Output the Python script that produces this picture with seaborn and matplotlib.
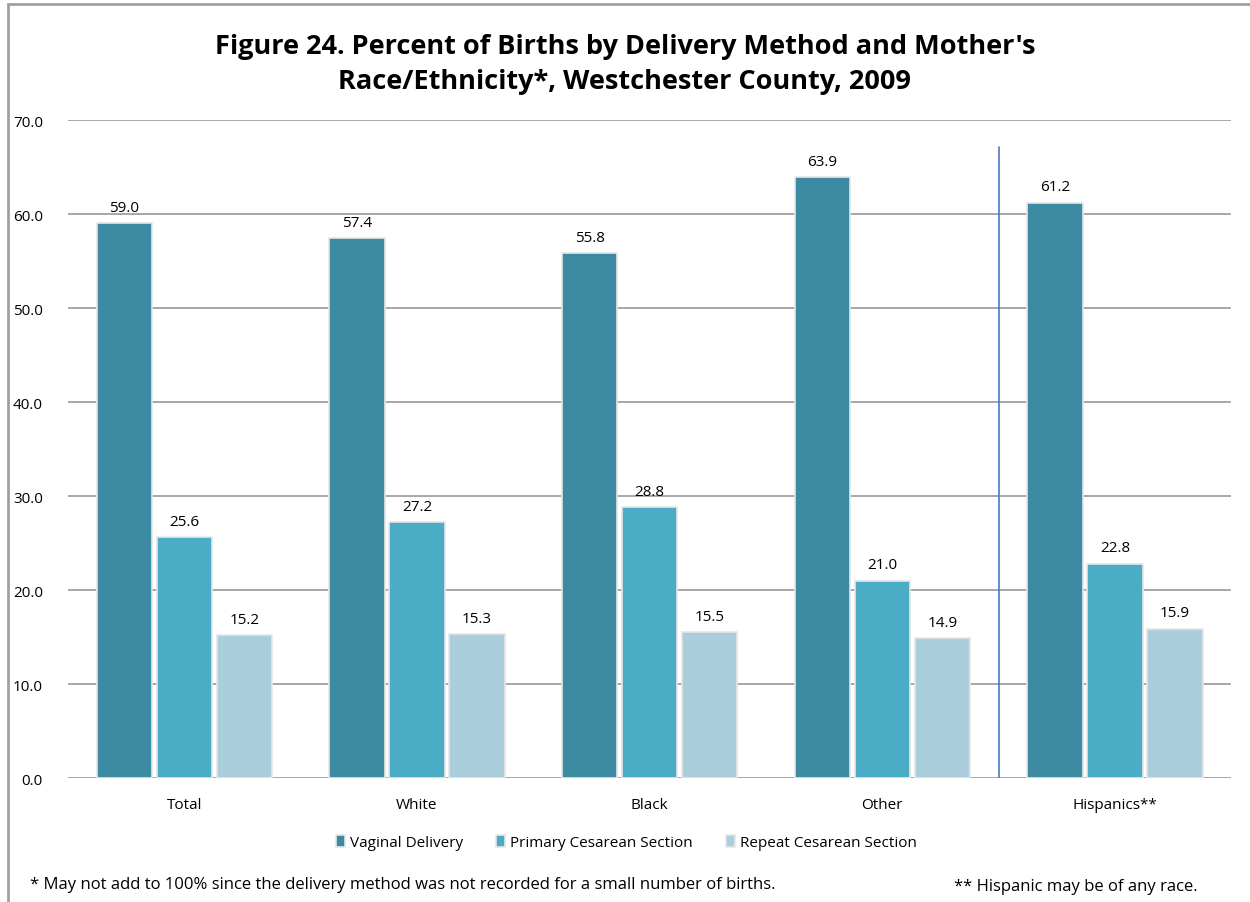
import matplotlib
matplotlib.use("Agg")
import matplotlib.pyplot as plt
import seaborn as sns
import pandas as pd
from matplotlib.patches import Rectangle

# data
groups = ["Total", "White", "Black", "Other", "Hispanics**"]
methods = ["Vaginal Delivery", "Primary Cesarean Section", "Repeat Cesarean Section"]
vaginal = [59.0, 57.4, 55.8, 63.9, 61.2]
primary = [25.6, 27.2, 28.8, 21.0, 22.8]
repeat = [15.2, 15.3, 15.5, 14.9, 15.9]
colors = ["#3D8BA3", "#4BACC6", "#AACEDC"]

rows = []
for method, vals in zip(methods, [vaginal, primary, repeat]):
    for g, v in zip(groups, vals):
        rows.append({"group": g, "method": method, "pct": v})
df = pd.DataFrame(rows)

sns.set_style("white")
plt.rcParams["font.family"] = ["Open Sans", "DejaVu Sans"]
plt.rcParams["text.color"] = "black"
plt.rcParams["xtick.color"] = "black"
plt.rcParams["ytick.color"] = "black"

fig = plt.figure(figsize=(12.5, 9.03), dpi=100)
ax = fig.add_axes([0.0544, 0.1373, 0.9306, 0.7287])

sns.barplot(
    data=df, x="group", y="pct", hue="method", order=groups, hue_order=methods,
    palette=colors, saturation=1, width=0.774, gap=0.08, ax=ax,
    edgecolor="#E6E6E6", linewidth=1.2, errorbar=None, zorder=3,
)

for cont in ax.containers:
    ax.bar_label(cont, fmt="%.1f", padding=6, fontsize=11, color="black")

ax.set_ylim(0, 70)
ax.set_xlim(-0.5, 4.5)
ax.set_yticks(range(0, 71, 10))
ax.set_yticklabels([f"{t:.1f}" for t in range(0, 71, 10)], fontsize=11)
ax.tick_params(axis="x", labelsize=11, pad=14, length=0)
ax.tick_params(axis="y", pad=18, length=0)
ax.yaxis.grid(True, color="#A0A0A0", linewidth=1.3, zorder=0)
ax.set_axisbelow(True)
for s in ax.spines.values():
    s.set_visible(False)
ax.set_xlabel("")
ax.set_ylabel("")

# separator between race groups and Hispanics
ax.axvline(3.5, ymin=0, ymax=0.959, color="#4A7CC7", linewidth=1.2, zorder=2)

handles, labels = ax.get_legend_handles_labels()
ax.legend(handles, labels, loc="upper center", bbox_to_anchor=(0.48, -0.065),
          ncol=3, frameon=False, fontsize=11, handlelength=0.6, handleheight=0.9,
          handletextpad=0.3, columnspacing=2.2)

fig.text(0.5, 0.948, "Figure 24. Percent of Births by Delivery Method and Mother's",
         ha="center", va="center", fontsize=19.5, fontweight="bold")
fig.text(0.5, 0.909, "Race/Ethnicity*, Westchester County, 2009",
         ha="center", va="center", fontsize=19.5, fontweight="bold")

fig.text(0.024, 0.020, "* May not add to 100% since the delivery method was not recorded for a small number of births.",
         ha="left", va="center", fontsize=12)
fig.text(0.958, 0.018, "** Hispanic may be of any race.",
         ha="right", va="center", fontsize=12)

# outer chart border
fig.patches.append(Rectangle((8 / 1250, -0.1), 1.2, 0.1 + (1 - 5 / 903), transform=fig.transFigure,
                             fill=False, edgecolor="#A0A0A0", linewidth=2))

fig.savefig("out.png", dpi=100)
